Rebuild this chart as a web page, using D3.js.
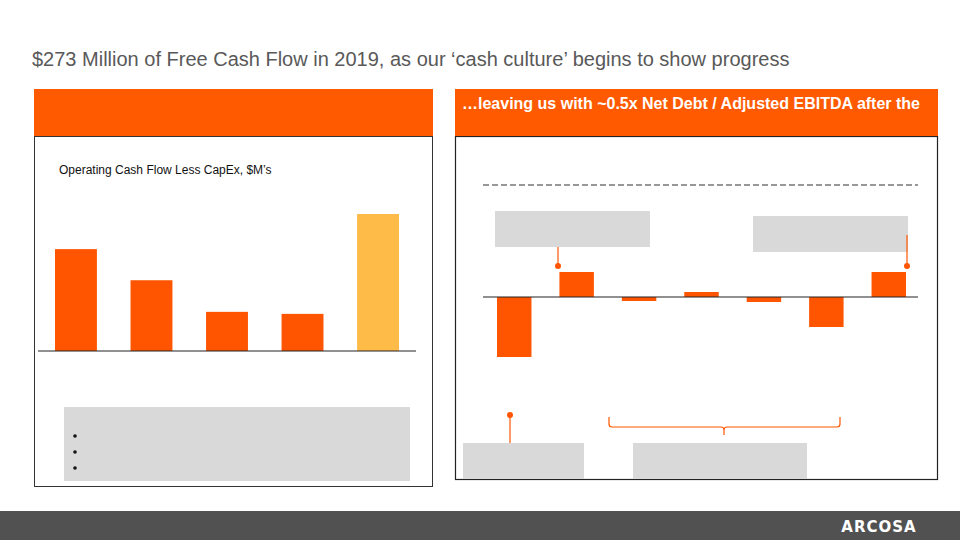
<!DOCTYPE html>
<html>
<head>
<meta charset="utf-8">
<script src="https://cdn.jsdelivr.net/npm/d3@7"></script>
<style>
  body { margin: 0; background: #fff; }
  svg { display: block; font-family: Arial, "Liberation Sans", sans-serif; }
</style>
</head>
<body>
<svg id="slide" width="960" height="540"></svg>
<script>
// free cash flow bars (left panel), $M
const fcfYears = ["2015", "2016", "2017", "2018", "2019"];
const fcfValues = [203, 141, 78, 74, 273];

// net debt bridge bars (right panel), $M
const bridgeSteps = ["s1", "s2", "s3", "s4", "s5", "s6", "s7"];
const bridgeValues = [-60, 25, -4, 5, -5, -30, 25];
const bridgeTarget = 112;

const ORANGE = "#ff5500";
const HEADER = "#ff5a00";
const GOLD = "#ffbb48";
const GREY_BOX = "#d9d9d9";

const svg = d3.select("#slide");

// title
svg.append("text")
    .attr("x", 32).attr("y", 66)
    .attr("font-size", 20)
    .attr("fill", "#595959")
    .text("$273 Million of Free Cash Flow in 2019, as our \u2018cash culture\u2019 begins to show progress");

// ---------- left panel ----------
svg.append("rect")
    .attr("x", 34.5).attr("y", 136.5).attr("width", 398).attr("height", 350)
    .attr("fill", "none").attr("stroke", "#333").attr("stroke-width", 1);
svg.append("rect")
    .attr("x", 34).attr("y", 89).attr("width", 399).attr("height", 47)
    .attr("fill", HEADER);

svg.append("text")
    .attr("x", 59).attr("y", 174)
    .attr("font-size", 12)
    .attr("fill", "#111")
    .text("Operating Cash Flow Less CapEx, $M\u2019s");

let xl = d3.scaleBand()
    .domain(fcfYears)
    .range([55, 399])
    .paddingInner(0.445)
    .paddingOuter(0);

let yl = d3.scaleLinear()
    .domain([0, 273])
    .range([351, 214]);

svg.append("g").selectAll("rect")
    .data(fcfValues)
    .join("rect")
    .attr("x", function(d, i) { return xl(fcfYears[i]) })
    .attr("y", function(d) { return yl(d) })
    .attr("width", xl.bandwidth())
    .attr("height", function(d) { return yl(0) - yl(d) })
    .attr("fill", function(d, i) { return i === fcfValues.length - 1 ? GOLD : ORANGE });

svg.append("line")
    .attr("x1", 38).attr("x2", 416)
    .attr("y1", yl(0)).attr("y2", yl(0))
    .attr("stroke", "#222").attr("stroke-width", 1.2);

svg.append("rect")
    .attr("x", 64).attr("y", 407).attr("width", 346).attr("height", 74)
    .attr("fill", GREY_BOX);
svg.append("g").selectAll("circle")
    .data([436, 452, 468])
    .join("circle")
    .attr("cx", 75).attr("cy", function(d) { return d })
    .attr("r", 1.8).attr("fill", "#111");

// ---------- right panel ----------
svg.append("rect")
    .attr("x", 455.5).attr("y", 136.5).attr("width", 482).attr("height", 343)
    .attr("fill", "none").attr("stroke", "#222").attr("stroke-width", 1.2);
svg.append("rect")
    .attr("x", 455).attr("y", 89).attr("width", 483).attr("height", 47)
    .attr("fill", HEADER);
svg.append("text")
    .attr("x", 462).attr("y", 109)
    .attr("font-size", 16).attr("font-weight", "bold")
    .attr("fill", "#fff")
    .text("\u2026leaving us with ~0.5x Net Debt / Adjusted EBITDA after the");

let xr = d3.scaleBand()
    .domain(bridgeSteps)
    .range([497, 906])
    .paddingInner(0.448)
    .paddingOuter(0);

let yr = d3.scaleLinear()
    .domain([-60, bridgeTarget])
    .range([357, 185]);

svg.append("line")
    .attr("x1", 483).attr("x2", 918)
    .attr("y1", yr(bridgeTarget)).attr("y2", yr(bridgeTarget))
    .attr("stroke", "#777").attr("stroke-width", 1.5)
    .attr("stroke-dasharray", "6,3");

svg.append("g").selectAll("rect")
    .data(bridgeValues)
    .join("rect")
    .attr("x", function(d, i) { return xr(bridgeSteps[i]) })
    .attr("y", function(d) { return yr(Math.max(0, d)) })
    .attr("width", xr.bandwidth())
    .attr("height", function(d) { return Math.abs(yr(d) - yr(0)) })
    .attr("fill", ORANGE);

svg.append("line")
    .attr("x1", 483).attr("x2", 918)
    .attr("y1", yr(0)).attr("y2", yr(0))
    .attr("stroke", "#222").attr("stroke-width", 1.2);

// callout boxes
const callouts = [
    {x: 495, y: 211, w: 155, h: 36},
    {x: 753, y: 216, w: 155, h: 36},
    {x: 463, y: 443, w: 121, h: 36},
    {x: 633, y: 443, w: 174, h: 36}
];
svg.append("g").selectAll("rect")
    .data(callouts)
    .join("rect")
    .attr("x", function(d) { return d.x })
    .attr("y", function(d) { return d.y })
    .attr("width", function(d) { return d.w })
    .attr("height", function(d) { return d.h })
    .attr("fill", GREY_BOX);

// pointer lines with dots
const pointers = [
    {x: 558, y1: 247, y2: 266},
    {x: 907, y1: 235, y2: 266},
    {x: 510, y1: 443, y2: 415}
];
let ptr = svg.append("g");
ptr.selectAll("line")
    .data(pointers)
    .join("line")
    .attr("x1", function(d) { return d.x }).attr("x2", function(d) { return d.x })
    .attr("y1", function(d) { return d.y1 }).attr("y2", function(d) { return d.y2 })
    .attr("stroke", ORANGE).attr("stroke-width", 1.2);
ptr.selectAll("circle")
    .data(pointers)
    .join("circle")
    .attr("cx", function(d) { return d.x })
    .attr("cy", function(d) { return d.y2 })
    .attr("r", 3).attr("fill", ORANGE);

// brace over the middle steps
svg.append("path")
    .attr("d", "M609,417 L609,424 Q609,427 612,427 L721,427 Q724,427 724,430 L724,435 L724,430 Q724,427 727,427 L837,427 Q840,427 840,424 L840,417")
    .attr("fill", "none")
    .attr("stroke", ORANGE).attr("stroke-width", 1.2);

// ---------- footer ----------
svg.append("rect")
    .attr("x", 0).attr("y", 511).attr("width", 960).attr("height", 29)
    .attr("fill", "#515151");
svg.append("text")
    .attr("x", 879).attr("y", 532)
    .attr("text-anchor", "middle")
    .attr("font-size", 15).attr("font-weight", "bold")
    .attr("font-family", "'DejaVu Sans', sans-serif")
    .attr("letter-spacing", 1)
    .attr("fill", "#fff")
    .text("ARCOSA");
</script>
</body>
</html>
